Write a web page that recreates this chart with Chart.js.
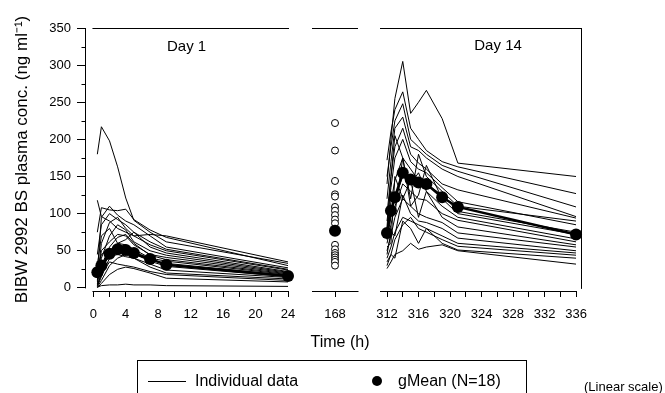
<!DOCTYPE html>
<html>
<head>
<meta charset="utf-8">
<script src="https://cdn.jsdelivr.net/npm/chart.js@4.4.1/dist/chart.umd.min.js"></script>
<style>
  html, body { margin: 0; padding: 0; background: #fff; }
  body { width: 665px; height: 393px; position: relative; overflow: hidden;
         font-family: "Liberation Sans", Arial, sans-serif; color: #000; }
  canvas { position: absolute; left: 0; top: 0; }
  .txt { position: absolute; white-space: nowrap; line-height: 18px; }
  #xtitle { left: 290px; width: 100px; text-align: center; top: 333px; font-size: 16px; }
  #legend { position: absolute; left: 137px; top: 360px; width: 390px; height: 50px;
            border: 1px solid #000; box-sizing: border-box; }
  #legend .line { position: absolute; left: 10px; top: 20px; width: 38px; border-top: 1px solid #000; }
  #legend .dot { position: absolute; left: 234px; top: 15px; width: 10px; height: 10px;
                 border-radius: 50%; background: #000; }
  #legend .txt { font-size: 16px; top: 11px; }
  #scale { left: 584px; top: 379px; font-size: 13px; line-height: 16px; }
</style>
</head>
<body>
<canvas id="day1" width="665" height="393"></canvas>
<canvas id="mid" width="665" height="393"></canvas>
<canvas id="day14" width="665" height="393"></canvas>
<div id="xtitle" class="txt">Time (h)</div>
<div id="legend">
  <div class="line"></div><div class="txt" style="left:57px">Individual data</div>
  <div class="dot"></div><div class="txt" style="left:260px">gMean (N=18)</div>
</div>
<div id="scale" class="txt">(Linear scale)</div>
<script>
// sampling times (h)
const day1Times = [0.5, 1, 2, 3, 4, 5, 7, 9, 24];
const day14Times = [312, 312.5, 313, 314, 315, 316, 317, 319, 321, 336];

// individual subjects, Day 1 (ng/ml)
const day1Individual = [
  [180, 217, 198, 163, 121, 91, 75, 62, 33],
  [118, 96, 90, 80, 75, 70, 72, 70, 35],
  [75, 108, 105, 104, 106, 92, 78, 68, 30],
  [20, 95, 110, 98, 90, 85, 70, 55, 27],
  [45, 85, 100, 92, 85, 75, 62, 52, 25],
  [10, 60, 88, 95, 80, 70, 58, 50, 24],
  [30, 70, 80, 60, 65, 75, 55, 47, 22],
  [5, 40, 70, 85, 78, 62, 50, 44, 21],
  [15, 50, 62, 72, 70, 58, 45, 41, 20],
  [8, 30, 55, 68, 72, 60, 44, 38, 19],
  [3, 20, 50, 60, 58, 52, 40, 36, 18],
  [25, 45, 52, 48, 50, 45, 38, 33, 17],
  [2, 15, 40, 55, 52, 46, 36, 29, 15],
  [12, 28, 42, 45, 42, 40, 32, 24, 14],
  [1, 10, 30, 40, 45, 40, 28, 20, 12],
  [4, 18, 35, 32, 30, 28, 22, 18, 10],
  [0, 6, 18, 25, 28, 26, 20, 13, 8],
  [1, 3, 4, 4, 5, 4, 4, 3, 2]
];

// individual subjects, Day 14 (ng/ml)
const day14Individual = [
  [140, 200, 255, 305, 235, 250, 266, 228, 168, 150],
  [172, 210, 240, 264, 215, 200, 185, 170, 163, 127],
  [150, 190, 225, 248, 200, 190, 180, 165, 157, 109],
  [120, 170, 215, 230, 190, 185, 175, 160, 150, 96],
  [100, 150, 190, 215, 180, 168, 160, 140, 132, 94],
  [90, 135, 175, 200, 170, 160, 155, 135, 116, 85],
  [82, 150, 205, 175, 120, 180, 150, 130, 110, 90],
  [78, 115, 145, 175, 160, 145, 140, 125, 103, 75],
  [70, 130, 100, 175, 110, 125, 165, 120, 100, 72],
  [65, 95, 120, 150, 140, 155, 130, 110, 95, 66],
  [60, 85, 110, 140, 130, 120, 118, 100, 91, 62],
  [55, 60, 150, 120, 145, 95, 130, 95, 82, 58],
  [50, 70, 95, 120, 110, 100, 95, 88, 74, 55],
  [45, 75, 70, 125, 100, 90, 88, 80, 67, 50],
  [40, 55, 75, 95, 90, 85, 80, 70, 60, 47],
  [35, 45, 65, 85, 95, 80, 75, 65, 56, 44],
  [30, 45, 40, 90, 80, 60, 80, 60, 51, 40],
  [26, 35, 45, 50, 60, 52, 55, 58, 50, 32]
];

// trough at 168 h
const day168Individual = [222, 185, 144, 126, 123, 109, 104, 98, 92, 87, 58, 52, 47, 44, 41, 38, 35, 30];

// geometric means
const day1Mean = [21, 30, 46, 52, 51, 47, 39, 31, 16];
const day14Mean = [74, 104, 122, 155, 146, 142, 140, 122, 109, 72];
const day168Mean = 77;

// ticks
const yMajor = [0, 50, 100, 150, 200, 250, 300, 350];
const yMinor = [25, 75, 125, 175, 225, 275, 325];
const day1Ticks = [0, 2, 4, 6, 8, 10, 12, 14, 16, 18, 20, 22, 24];
const day1Labels = [0, 4, 8, 12, 16, 20, 24];
const day14Ticks = [312, 314, 316, 318, 320, 322, 324, 326, 328, 330, 332, 334, 336];
const day14Labels = [312, 316, 320, 324, 328, 332, 336];
const midTicks = [168];

Chart.defaults.font.family = "'Liberation Sans', Arial, sans-serif";
Chart.defaults.color = '#000';

const panelFrame = {
  id: 'panelFrame',
  afterDraw(chart, args, o) {
    const {ctx, chartArea: a, scales: {x, y}} = chart;
    const yTop = Math.round(y.getPixelForValue(350)) + 0.5;
    const yBase = Math.round(a.bottom) + 0.5;
    const l = o.from != null ? x.getPixelForValue(o.from) : a.left;
    const r = o.axisTo != null ? x.getPixelForValue(o.axisTo) : a.right;
    ctx.save();
    ctx.strokeStyle = '#000';
    ctx.lineWidth = 1;
    ctx.beginPath();
    ctx.moveTo(l, yTop); ctx.lineTo(a.right, yTop);
    ctx.moveTo(l, yBase); ctx.lineTo(r + 0.5, yBase);
    if (o.rightBorder) {
      const xr = Math.round(a.right) - 0.5;
      ctx.moveTo(xr, yTop); ctx.lineTo(xr, y.getPixelForValue(0) + 1);
    }
    if (o.yAxis) {
      const xl = Math.round(a.left) + 0.5;
      ctx.moveTo(xl, y.getPixelForValue(350)); ctx.lineTo(xl, y.getPixelForValue(0) + 0.5);
      yMinor.forEach(v => {
        const py = Math.round(y.getPixelForValue(v)) + 0.5;
        ctx.moveTo(xl - 4, py); ctx.lineTo(xl, py);
      });
    }
    ctx.stroke();
    if (o.label) {
      ctx.font = "15px 'Liberation Sans', Arial, sans-serif";
      ctx.fillStyle = '#000';
      ctx.textAlign = 'center';
      ctx.textBaseline = 'middle';
      ctx.fillText(o.label.text, x.getPixelForValue(o.label.x), y.getPixelForValue(o.label.y));
    }
    ctx.restore();
  }
};

function subjectSets(times, subjects) {
  return subjects.map(vals => ({
    data: vals.map((v, i) => ({x: times[i], y: v})),
    borderColor: '#000', borderWidth: 1, pointRadius: 0, tension: 0, clip: false
  }));
}

function meanSet(times, vals) {
  return {
    data: vals.map((v, i) => ({x: times[i], y: v})),
    borderColor: '#000', borderWidth: 2.5, pointRadius: 6, pointBorderWidth: 0,
    pointBackgroundColor: '#000', tension: 0, clip: false
  };
}

function xScale(min, max, ticks, labels) {
  return {
    type: 'linear', min: min, max: max,
    afterBuildTicks: s => { s.ticks = ticks.map(v => ({value: v})); },
    afterFit: s => { s.height = 30; },
    ticks: { autoSkip: false, maxRotation: 0, padding: 10, font: {size: 13},
             callback: v => labels.includes(v) ? String(v) : '' },
    grid: { drawOnChartArea: false, tickLength: 6, tickColor: '#000' },
    border: { display: false }
  };
}

function yScale(show) {
  return {
    type: 'linear', min: -4.2, max: 350, display: show,
    afterBuildTicks: s => { s.ticks = yMajor.map(v => ({value: v})); },
    afterFit: s => { s.width = show ? 85 : 0; },
    ticks: { padding: 6, font: {size: 13} },
    grid: { drawOnChartArea: false, tickLength: 8, tickColor: '#000' },
    border: { display: false },
    title: { display: true, text: 'BIBW 2992 BS plasma conc. (ng ml\u207B\u00B9)',
             font: {size: 17}, padding: {top: 12, bottom: 0} }
  };
}

function baseOptions(pad, xs, showY, frame) {
  return {
    responsive: false, animation: false, devicePixelRatio: 1,
    layout: { padding: pad },
    plugins: { legend: {display: false}, tooltip: {enabled: false}, panelFrame: frame },
    scales: { x: xs, y: yScale(showY) }
  };
}

new Chart(document.getElementById('day1'), {
  type: 'line',
  data: { datasets: [meanSet(day1Times, day1Mean)].concat(subjectSets(day1Times, day1Individual)) },
  options: baseOptions({left: 0, right: 376, top: 28, bottom: 72},
    xScale(-1.02, 24.12, day1Ticks, day1Labels), true,
    {yAxis: true, from: -0.1, axisTo: 24, label: {text: 'Day 1', x: 11.5, y: 324}}),
  plugins: [panelFrame]
});

new Chart(document.getElementById('mid'), {
  type: 'scatter',
  data: { datasets: [
    { data: [{x: 168, y: day168Mean}], pointRadius: 6, pointBackgroundColor: '#000',
      pointBorderWidth: 0, clip: false },
    { data: day168Individual.map(v => ({x: 168, y: v})), pointRadius: 3.5,
      pointBackgroundColor: '#fff', pointBorderColor: '#000', pointBorderWidth: 1, clip: false }
  ] },
  options: baseOptions({left: 312, right: 307, top: 28, bottom: 72},
    xScale(145, 191, midTicks, midTicks), false, {}),
  plugins: [panelFrame]
});

new Chart(document.getElementById('day14'), {
  type: 'line',
  data: { datasets: [meanSet(day14Times, day14Mean)].concat(subjectSets(day14Times, day14Individual)) },
  options: baseOptions({left: 380, right: 83, top: 28, bottom: 72},
    xScale(311.11, 336.76, day14Ticks, day14Labels), false,
    {axisTo: 336, rightBorder: true, label: {text: 'Day 14', x: 326.1, y: 326}}),
  plugins: [panelFrame]
});
</script>
</body>
</html>
